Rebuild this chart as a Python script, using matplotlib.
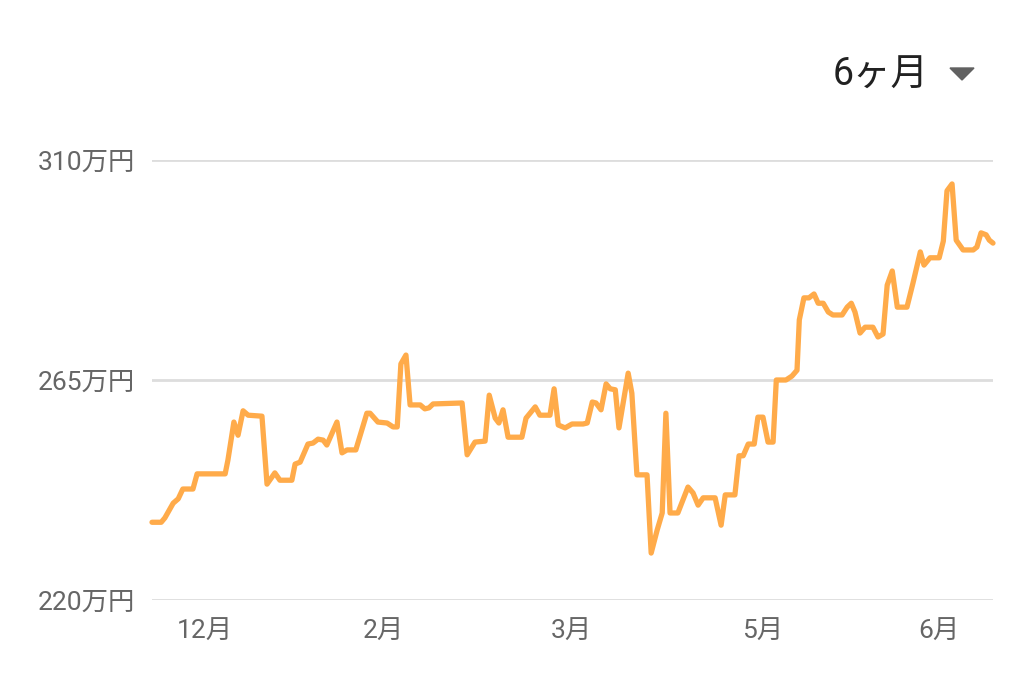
import matplotlib.pyplot as plt
from matplotlib.patches import Polygon

# day index (0 = start of the 6-month window) and value in 万円
days = [0.0, 2.0, 2.8, 4.6, 5.7, 6.7, 8.9, 9.8, 15.9, 16.5, 17.8, 18.7, 19.8, 20.9, 23.9,
        25.0, 26.7, 27.8, 30.4, 31.1, 32.2, 33.9, 35.0, 36.1, 37.2, 38.0, 40.2, 41.3, 42.4,
        44.3, 46.7, 47.4, 49.1, 51.1, 52.4, 53.3, 54.1, 55.2, 56.1, 58.3, 59.3, 60.2, 61.1,
        67.4, 68.5, 70.2, 72.4, 73.3, 74.6, 75.4, 76.3, 77.4, 80.4, 81.3, 83.3, 84.3, 86.5,
        87.4, 88.3, 89.8, 91.3, 93.7, 94.6, 95.7, 96.5, 97.6, 98.7, 99.6, 100.7, 101.5,
        103.5, 104.3, 105.4, 107.6, 108.5, 109.8, 110.9, 111.7, 112.6, 114.3, 116.5, 117.6,
        118.7, 119.8, 122.4, 123.7, 124.6, 126.7, 127.6, 128.5, 129.6, 130.9, 131.7, 132.8,
        133.9, 135.0, 135.7, 137.8, 139.1, 140.2, 140.7, 141.7, 142.8, 143.9, 144.8, 145.9,
        147.0, 148.0, 150.0, 151.1, 152.0, 152.8, 153.9, 155.0, 156.7, 157.8, 158.9, 159.8,
        160.9, 162.0, 164.1, 165.4, 167.0, 167.8, 169.1, 171.1, 172.0, 172.8, 173.9, 174.8,
        176.3, 178.5, 179.3, 180.2, 181.3, 182.0, 182.8]
values = [235.9, 235.9, 236.8, 239.8, 240.7, 242.7, 242.7, 245.8, 245.8, 248.6, 256.4, 253.7,
          258.7, 257.8, 257.6, 243.7, 246.0, 244.5, 244.5, 247.8, 248.2, 251.9, 252.1, 252.9,
          252.7, 251.7, 256.4, 250.1, 250.7, 250.7, 258.2, 258.2, 256.4, 256.2, 255.4, 255.4,
          268.3, 270.1, 259.9, 259.9, 259.1, 259.3, 260.1, 260.3, 249.7, 252.3, 252.5, 261.9,
          257.2, 256.2, 258.9, 253.3, 253.3, 257.2, 259.5, 257.8, 257.8, 263.2, 255.8, 255.2,
          256.0, 256.0, 256.2, 260.5, 260.3, 258.9, 264.2, 263.2, 263.0, 255.2, 266.4, 262.3,
          245.6, 245.6, 229.6, 234.3, 237.8, 258.2, 237.8, 237.8, 243.1, 241.9, 239.4, 240.9,
          240.9, 235.3, 241.5, 241.5, 249.5, 249.5, 251.9, 251.9, 257.4, 257.4, 252.3, 252.3,
          265.0, 265.0, 265.8, 267.0, 277.3, 281.8, 281.8, 282.6, 280.7, 280.7, 278.9, 278.3,
          278.3, 279.9, 280.7, 278.9, 274.6, 275.8, 275.8, 273.8, 274.4, 284.4, 287.3, 279.9,
          279.9, 284.8, 291.2, 288.5, 290.0, 290.0, 293.4, 303.7, 305.1, 293.6, 291.6, 291.6,
          292.2, 295.1, 294.7, 293.6, 293.0]

month_pos = [11.5, 50.2, 91.1, 132.8, 171.1]
month_labels = ['12月', '2月', '3月', '5月', '6月']
y_ticks = [220, 265, 310]
y_labels = ['220万円', '265万円', '310万円']

fonts = ['Roboto', 'Noto Sans CJK JP', 'DejaVu Sans']
plt.rcParams['font.family'] = fonts

fig = plt.figure(figsize=(10.24, 6.91), dpi=100)
ax = fig.add_axes([152 / 1024, 1 - 600 / 691, (993 - 152) / 1024, 440 / 691])

ax.plot(days, values, color='#FFAB4A', lw=3.8, solid_joinstyle='round',
        solid_capstyle='round', clip_on=False, zorder=3)

ax.set_xlim(0, 182.8)
ax.set_ylim(220, 310)
for s in ax.spines.values():
    s.set_visible(False)
ax.set_yticks(y_ticks)
ax.set_yticklabels(y_labels)
ax.set_xticks(month_pos)
ax.set_xticklabels(month_labels)
ax.tick_params(axis='both', length=0, labelsize=19, colors='#666666')
ax.tick_params(axis='y', pad=12)
ax.tick_params(axis='x', pad=14)
ax.grid(axis='y', color='#dddddd', lw=2)
ax.set_axisbelow(True)

# period selector
fig.text(833 / 1024, 1 - 75 / 691, '6ヶ月', fontsize=27, color='#212121',
         va='center', ha='left')
fig.patches.append(Polygon([[950 / 1024, 1 - 68 / 691], [974 / 1024, 1 - 68 / 691],
                            [962 / 1024, 1 - 80 / 691]], closed=True,
                           transform=fig.transFigure, color='#616161'))

plt.savefig('out.png', dpi=100)
